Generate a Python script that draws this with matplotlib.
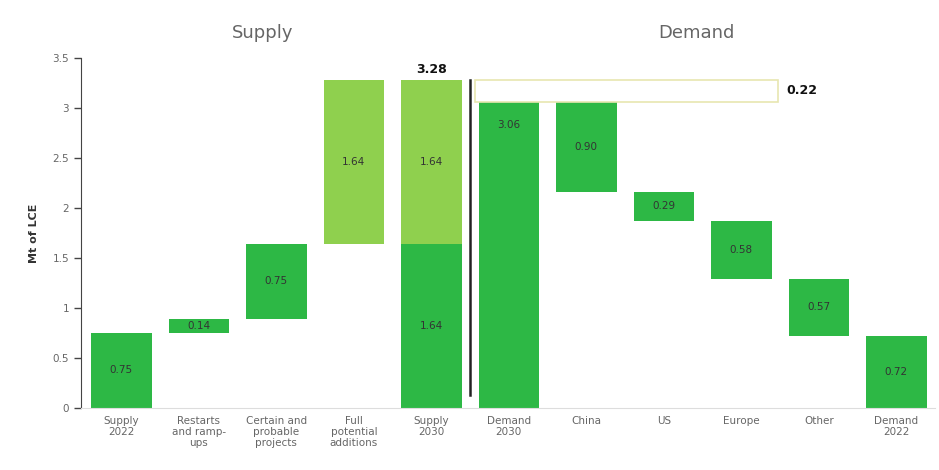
import matplotlib.pyplot as plt
from matplotlib.ticker import FuncFormatter

# data
categories = ["Supply\n2022", "Restarts\nand ramp-\nups", "Certain and\nprobable\nprojects",
              "Full\npotential\nadditions", "Supply\n2030", "Demand\n2030", "China", "US",
              "Europe", "Other", "Demand\n2022"]
supply_steps = [0.75, 0.14, 0.75, 1.64]
supply_2030_parts = [1.64, 1.64]
demand_2030 = 3.06
demand_steps = [0.90, 0.29, 0.58, 0.57]
demand_2022 = 0.72
gap = 0.22

dark = "#2db845"
light = "#8fd04e"

fig = plt.figure(figsize=(9.39, 4.70), dpi=100)
ax = fig.add_axes([0.0863, 0.132, 0.9095, 0.745])

w = 0.78
pos = list(range(len(categories)))

# supply waterfall
base = 0
for i, v in enumerate(supply_steps):
    col = light if i == 3 else dark
    ax.bar(pos[i], v, w, bottom=base, color=col)
    ax.text(pos[i], base + v / 2, f"{v:.2f}", ha="center", va="center", fontsize=7.5, color="#333")
    base += v
supply_total = base

# supply 2030 stacked
ax.bar(pos[4], supply_2030_parts[0], w, color=dark)
ax.bar(pos[4], supply_2030_parts[1], w, bottom=supply_2030_parts[0], color=light)
ax.text(pos[4], supply_2030_parts[0] / 2, f"{supply_2030_parts[0]:.2f}", ha="center", va="center",
        fontsize=7.5, color="#333")
ax.text(pos[4], supply_2030_parts[0] + supply_2030_parts[1] / 2, f"{supply_2030_parts[1]:.2f}",
        ha="center", va="center", fontsize=7.5, color="#333")
ax.text(pos[4], sum(supply_2030_parts) + 0.04, f"{sum(supply_2030_parts):.2f}", ha="center",
        va="bottom", fontsize=9, fontweight="bold", color="#111")

# demand 2030
ax.bar(pos[5], demand_2030, w, color=dark)
ax.text(pos[5], demand_2030 - 0.23, f"{demand_2030:.2f}", ha="center", va="center", fontsize=7.5, color="#333")

# demand waterfall
top = demand_2030
for j, v in enumerate(demand_steps):
    i = 6 + j
    ax.bar(pos[i], v, w, bottom=top - v, color=dark)
    ax.text(pos[i], top - v / 2, f"{v:.2f}", ha="center", va="center", fontsize=7.5, color="#333")
    top -= v

ax.bar(pos[10], demand_2022, w, color=dark)
ax.text(pos[10], demand_2022 / 2, f"{demand_2022:.2f}", ha="center", va="center", fontsize=7.5, color="#333")

# gap box
ax.bar(6.52, gap, 3.9, bottom=demand_2030, color="white", edgecolor="#e8e6b0", linewidth=1.2)
ax.text(8.58, demand_2030 + gap / 2, f"{gap:.2f}", ha="left", va="center", fontsize=9,
        fontweight="bold", color="#111")

# divider
ax.plot([4.5, 4.5], [0.13, supply_total], color="#222", linewidth=1.8)

# headers
ax.text(1.82, 3.75, "Supply", ha="center", va="center", fontsize=13, color="#666")
ax.text(7.42, 3.75, "Demand", ha="center", va="center", fontsize=13, color="#666")

ax.set_xlim(-0.52, 10.5)
ax.set_ylim(0, 3.5)
ax.set_xticks(pos)
ax.set_xticklabels(categories, fontsize=7.5, color="#666", linespacing=1.1)
ax.tick_params(axis="x", length=0, pad=6)
ax.set_yticks([0, 0.5, 1, 1.5, 2, 2.5, 3, 3.5])
ax.yaxis.set_major_formatter(FuncFormatter(lambda v, p: f"{v:g}"))
ax.tick_params(axis="y", labelsize=7.5, labelcolor="#666", color="#444", length=5, width=1)
ax.set_ylabel("Mt of LCE", fontsize=8, fontweight="bold", color="#333", labelpad=10)

ax.spines["top"].set_visible(False)
ax.spines["right"].set_visible(False)
ax.spines["left"].set_color("#444")
ax.spines["bottom"].set_color("#ddd")

fig.savefig("out.png", dpi=100)
